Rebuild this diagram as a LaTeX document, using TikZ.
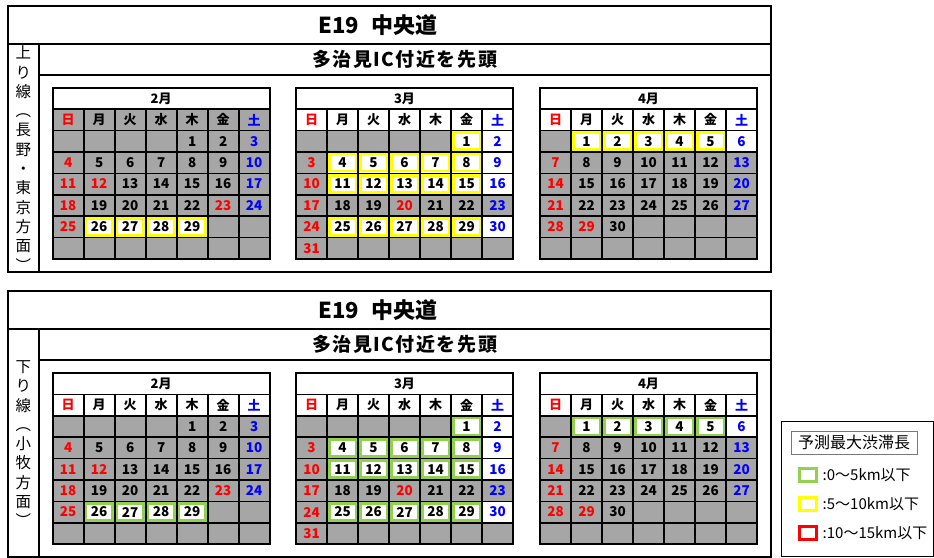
\documentclass[tikz,border=0pt]{standalone}
\usepackage{fontspec}
\setmainfont{Noto Sans CJK JP}
\definecolor{calgray}{RGB}{166,166,166}
\definecolor{hlyellow}{RGB}{255,255,0}
\definecolor{hlgreen}{RGB}{146,208,80}
\definecolor{sunred}{RGB}{255,0,0}
\definecolor{satblue}{RGB}{0,0,255}
\definecolor{boxgray}{RGB}{120,120,120}

\newcommand\markset[3]{\foreach \d in {#3}{\expandafter\gdef\csname #1#2-\d\endcsname{}}}
\markset{wh}{2}{26,27,28,29}
\markset{hl}{2}{26,27,28,29}
\markset{ho}{2}{12,23}
\markset{wh}{3}{1,2,4,5,6,7,8,9,11,12,13,14,15,16,25,26,27,28,29,30}
\markset{hl}{3}{1,4,5,6,7,8,11,12,13,14,15,25,26,27,28,29}
\markset{ho}{3}{20}
\markset{wh}{4}{1,2,3,4,5,6}
\markset{hl}{4}{1,2,3,4,5}
\markset{ho}{4}{29}

\def\cw{31}
\def\rh{21.4}
\def\hin{2.2}

\tikzset{
  gridline/.style={draw=black, line width=1.6pt},
  calframe/.style={draw=black, line width=2pt},
  outerframe/.style={draw=black, line width=2pt},
  hlbox/.style={draw=#1, line width=2.6pt},
  daytext/.style={font=\bfseries\fontsize{13.5}{13.5}\selectfont, inner sep=0pt},
  wdtext/.style={font=\bfseries\fontsize{13}{13}\selectfont, inner sep=0pt},
  monthlabel/.style={font=\bfseries\fontsize{13}{13}\selectfont, inner sep=0pt},
  titletext/.style={font=\bfseries\fontsize{22}{22}\selectfont, inner sep=0pt},
  subtext/.style={font=\bfseries\fontsize{19}{19}\selectfont\addfontfeature{LetterSpace=8}, inner sep=0pt},
  sidetext/.style={font=\fontsize{15.5}{19.3}\selectfont, align=center, inner sep=0pt},
  legframe/.style={draw=black, line width=1pt},
  legsq/.style={draw=#1, line width=3pt, fill=white, minimum width=17pt, minimum height=13pt, inner sep=0pt},
  legtext/.style={font=\fontsize{15}{15}\selectfont, anchor=west, inner sep=0pt},
}

% #1 x0, #2 y0, #3 month, #4 offset, #5 ndays, #6 hl colour, #7 weekday-row fill, #8 prefix
\newcommand\drawcal[8]{%
  \fill[calgray] (#1,#2+2*\rh) rectangle ++(7*\cw,6*\rh);
  \fill[white] (#1,#2) rectangle ++(7*\cw,\rh);
  \fill[#7] (#1,#2+\rh) rectangle ++(7*\cw,\rh);
  \foreach \d in {1,...,#5}{%
    \pgfmathtruncatemacro\cc{mod(\d-1+#4,7)}%
    \pgfmathtruncatemacro\rr{(\d-1+#4)/7}%
    \ifcsname wh#3-\d\endcsname
      \fill[white] (#1+\cc*\cw,#2+\rr*\rh+2*\rh) rectangle ++(\cw,\rh);
    \fi
  }
  \foreach \i in {1,...,7} \draw[gridline] (#1,#2+\i*\rh) -- ++(7*\cw,0);
  \foreach \j in {1,...,6} \draw[gridline] (#1+\j*\cw,#2+\rh) -- ++(0,7*\rh);
  \draw[calframe] (#1,#2) rectangle ++(7*\cw,8*\rh);
  \foreach \d in {1,...,#5}{%
    \pgfmathtruncatemacro\cc{mod(\d-1+#4,7)}%
    \pgfmathtruncatemacro\rr{(\d-1+#4)/7}%
    \ifcsname hl#3-\d\endcsname
      \draw[hlbox=#6] (#1+\cc*\cw+\hin,#2+\rr*\rh+2*\rh+\hin) rectangle ++(\cw-2*\hin,\rh-2*\hin);
    \fi
  }
  \node[monthlabel] (#8m#3) at (#1+3.5*\cw,#2+0.5*\rh) {#3月};
  \foreach \w [count=\k from 0] in {日,月,火,水,木,金,土}{%
    \def\tc{black}%
    \ifnum\k=0 \def\tc{sunred}\fi
    \ifnum\k=6 \def\tc{satblue}\fi
    \node[wdtext, text=\tc] (#8m#3w\k) at (#1+\k*\cw+0.5*\cw,#2+1.5*\rh) {\w};
  }
  \foreach \d in {1,...,#5}{%
    \pgfmathtruncatemacro\cc{mod(\d-1+#4,7)}%
    \pgfmathtruncatemacro\rr{(\d-1+#4)/7}%
    \def\tc{black}%
    \ifnum\cc=0 \def\tc{sunred}\fi
    \ifnum\cc=6 \def\tc{satblue}\fi
    \ifcsname ho#3-\d\endcsname \def\tc{sunred}\fi
    \node[daytext, text=\tc] (#8m#3d\d) at (#1+\cc*\cw+0.5*\cw,#2+\rr*\rh+2.5*\rh) {\d};
  }
}

% #1 prefix, #2 side text, #3 hl colour, #4 Feb weekday-row fill
\newcommand\drawsection[4]{%
  \fill[white] (8,5.5) rectangle (771,271.7);
  \draw[outerframe] (8,5.5) rectangle (771,271.7);
  \draw[outerframe] (8,44) -- (771,44);
  \draw[outerframe] (39,44) -- (39,271.7);
  \draw[outerframe] (39,74.7) -- (771,74.7);
  \node[titletext] (#1title) at (378,24.8) {E19\hspace{12pt}中央道};
  \node[subtext] (#1sub) at (404.5,59.4) {多治見IC付近を先頭};
  \node[sidetext] (#1side) at (23.5,158.5) {#2};
  \drawcal{52.7}{87.7}{2}{4}{29}{#3}{#4}{#1}
  \drawcal{296}{87.7}{3}{5}{31}{#3}{white}{#1}
  \drawcal{540}{87.7}{4}{1}{30}{#3}{white}{#1}
}

\begin{document}
\begin{tikzpicture}[x=1pt,y=-1pt]
\useasboundingbox (0,0) rectangle (934,557);
\fill[white] (0,0) rectangle (934,557);

\drawsection{u}{上\\り\\線\\︵\\長\\野\\・\\東\\京\\方\\面\\︶}{hlyellow}{calgray}
\begin{scope}[yshift=-285.2pt]
\drawsection{l}{下\\り\\線\\︵\\小\\牧\\方\\面\\︶}{hlgreen}{white}
\end{scope}

% legend
\draw[legframe] (781.7,421.7) rectangle (933,556.7);
\node[draw=boxgray, line width=0.8pt, minimum width=126pt, minimum height=22.3pt, inner sep=0pt,
      font=\fontsize{16}{16}\selectfont] (legt) at (854,442.9) {予測最大渋滞長};
\node[legsq=hlgreen] (sqg) at (808.3,475.3) {};
\node[legsq=hlyellow] (sqy) at (808.3,504.3) {};
\node[legsq=sunred] (sqr) at (808.3,533) {};
\node[legtext] (tg) at (822.5,475.3) {:0～5km以下};
\node[legtext] (ty) at (822.5,504.3) {:5～10km以下};
\node[legtext] (tr) at (822.5,533) {:10～15km以下};
\end{tikzpicture}
\end{document}
